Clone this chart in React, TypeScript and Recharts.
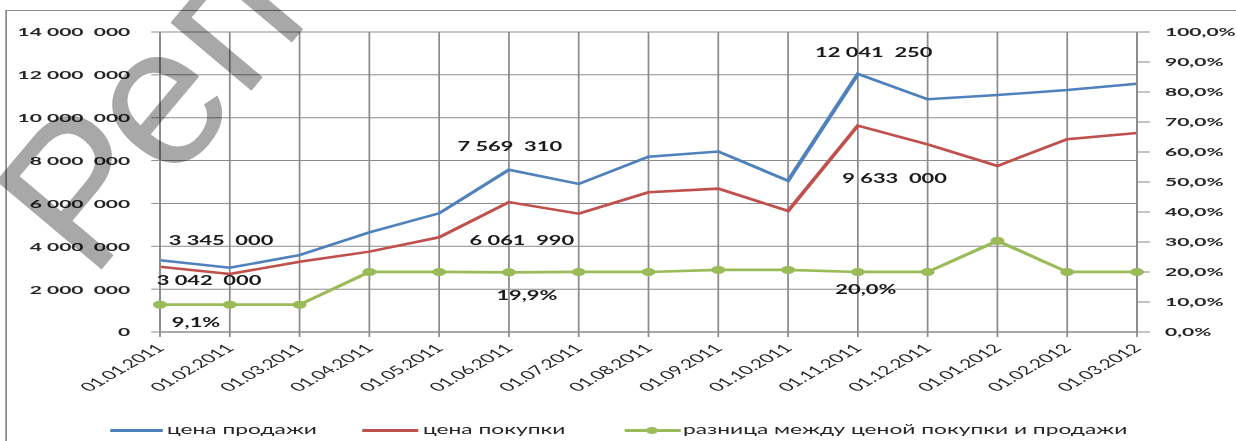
import React from 'react';
import { LineChart, Line, XAxis, YAxis, CartesianGrid, LabelList } from 'recharts';

// ---------- data ----------
const categories = [
  '01.01.2011', '01.02.2011', '01.03.2011', '01.04.2011', '01.05.2011',
  '01.06.2011', '01.07.2011', '01.08.2011', '01.09.2011', '01.10.2011',
  '01.11.2011', '01.12.2011', '01.01.2012', '01.02.2012', '01.03.2012',
];
const salePrice = [
  3345000, 3000000, 3590000, 4650000, 5540000,
  7569310, 6910000, 8180000, 8420000, 7060000,
  12041250, 10860000, 11060000, 11290000, 11590000,
];
const purchasePrice = [
  3042000, 2710000, 3280000, 3750000, 4420000,
  6061990, 5520000, 6520000, 6690000, 5650000,
  9633000, 8760000, 7750000, 9000000, 9290000,
];
const marginPct = [
  9.1, 9.1, 9.1, 20.0, 20.0,
  19.9, 20.0, 20.0, 20.7, 20.7,
  20.0, 20.0, 30.4, 20.0, 20.0,
];
const leftTicks = [0, 2000000, 4000000, 6000000, 8000000, 10000000, 12000000, 14000000];
const rightTicks = [0, 10, 20, 30, 40, 50, 60, 70, 80, 90, 100];
const seriesNames = ['цена продажи', 'цена покупки', 'разница между ценой покупки и продажи'];
const watermarkText = 'Реп';

// ---------- layout / style config ----------
const SX = 1.75; // horizontal stretch of the original picture
const W = 1236 / SX;
const H = 441;
const PLOT_LEFT = 160 / SX;
const PLOT_RIGHT = 1137 / SX;
const COLORS = { sale: '#4f81bd', buy: '#c0504d', diff: '#9bbb59' };
const GRID = '#8c8c8c';
const FONT = "Lato, 'Open Sans', 'DejaVu Sans', sans-serif";
const WM = { x: 91, y: 282, angle: -50, size: 200 };

// label offsets (in chart units) for labelled points, keyed by point index
const labelOffsets: Record<string, Record<number, [number, number]>> = {
  sale: { 0: [34.9, -20], 5: [0.5, -23], 10: [9.1, -21] },
  buy: { 0: [28, 14], 5: [7.4, 38], 10: [21, 53] },
  diff: { 0: [20.6, 18], 5: [10.3, 23], 10: [4.6, 18] },
};

const data = categories.map((c, i) => ({
  date: c,
  sale: salePrice[i],
  buy: purchasePrice[i],
  diff: marginPct[i],
}));

const NB = '\u00A0';
function fmtMoney(v: number): string {
  if (v === 0) return '0';
  const s = String(Math.round(v));
  const groups: string[] = [];
  for (let i = s.length; i > 0; i -= 3) groups.unshift(s.slice(Math.max(0, i - 3), i));
  if (groups.length === 1) return groups[0];
  const last = groups.pop();
  return groups.join(NB) + NB + NB + last;
}
function fmtPct(v: number): string {
  return v.toFixed(1).replace('.', ',') + '%';
}

const LeftTick = (props: any) => {
  const { x, y, payload } = props;
  return (
    <text x={x} y={y} dy={4.5} textAnchor="end" fontFamily={FONT} fontWeight="bold" fontSize={12} fill="#262626">
      {fmtMoney(payload.value)}
    </text>
  );
};

const RightTick = (props: any) => {
  const { x, y, payload } = props;
  return (
    <text x={x} y={y} dy={4.5} textAnchor="start" fontFamily={FONT} fontWeight="bold" fontSize={12} fill="#262626">
      {fmtPct(payload.value)}
    </text>
  );
};

const BottomTick = (props: any) => {
  const { x, y, payload } = props;
  return (
    <g transform={`translate(${x + 3},${y + 10})`}>
      <text x={0} y={0} textAnchor="end" transform="rotate(-45)" fontFamily={FONT} fontSize={12} fill="#262626">
        {payload.value}
      </text>
    </g>
  );
};

function makeLabel(key: string, series: number[], isPct: boolean) {
  return (props: any) => {
    const { x, y, value } = props;
    let index = props.index;
    if (index === undefined || index === null) index = series.indexOf(value);
    const off = labelOffsets[key][index];
    if (!off || x === undefined || y === undefined) return null;
    return (
      <text
        x={x + off[0]}
        y={y + off[1]}
        dy={4.5}
        textAnchor="middle"
        fontFamily={FONT}
        fontWeight="bold"
        fontSize={12.5}
        fill="#1a1a1a"
      >
        {isPct ? fmtPct(value) : fmtMoney(value)}
      </text>
    );
  };
}

const LegendItem = ({ textLeft, lineLeft, lineRight, color, marker, label }: any) => (
  <>
    <div
      style={{
        position: 'absolute',
        left: lineLeft,
        top: 429,
        width: lineRight - lineLeft,
        height: 2.5,
        background: color,
      }}
    />
    {marker ? (
      <div
        style={{
          position: 'absolute',
          left: (lineLeft + lineRight) / 2 - 3.5,
          top: 426.75,
          width: 7,
          height: 7,
          borderRadius: '50%',
          background: color,
        }}
      />
    ) : null}
    <div
      style={{
        position: 'absolute',
        left: textLeft,
        top: 420,
        fontFamily: FONT,
        fontSize: 13,
        lineHeight: '18px',
        color: '#262626',
        whiteSpace: 'nowrap',
      }}
    >
      {label}
    </div>
  </>
);

export default function App() {
  return (
    <div style={{ position: 'absolute', left: 0, top: 0, width: 1236, height: H, background: '#fff', overflow: 'hidden' }}>
      <div
        style={{
          position: 'absolute',
          left: 0,
          top: 0,
          width: W,
          height: H,
          transform: `scaleX(${SX})`,
          transformOrigin: '0 0',
        }}
      >
        <div
          style={{
            position: 'absolute',
            left: 6 / SX,
            top: 10,
            width: 1000,
            height: 1000,
            border: '1px solid #8a8a8a',
          }}
        />
        <div style={{ position: 'absolute', left: 0, top: 0 }}>
          <LineChart
            width={W}
            height={H}
            data={data}
            margin={{ top: 32, right: 0, bottom: 0, left: 0 }}
          >
            <CartesianGrid stroke={GRID} strokeWidth={1} yAxisId="left" vertical horizontal />
            <XAxis
              dataKey="date"
              height={109}
              tickSize={5}
              tickMargin={2}
              stroke={GRID}
              tick={<BottomTick />}
              interval={0}
            />
            <YAxis
              yAxisId="left"
              orientation="left"
              width={PLOT_LEFT}
              domain={[0, 14000000]}
              ticks={leftTicks}
              tickSize={5}
              tickMargin={12}
              stroke={GRID}
              tick={<LeftTick />}
              interval={0}
            />
            <YAxis
              yAxisId="right"
              orientation="right"
              width={W - PLOT_RIGHT}
              domain={[0, 100]}
              ticks={rightTicks}
              tickSize={7.4}
              tickMargin={8.6}
              stroke={GRID}
              tick={<RightTick />}
              interval={0}
            />
            <Line
              yAxisId="left"
              dataKey="sale"
              name={seriesNames[0]}
              type="linear"
              stroke={COLORS.sale}
              strokeWidth={2.5}
              dot={false}
              isAnimationActive={false}
            >
              <LabelList dataKey="sale" content={makeLabel('sale', salePrice, false)} />
            </Line>
            <Line
              yAxisId="left"
              dataKey="buy"
              name={seriesNames[1]}
              type="linear"
              stroke={COLORS.buy}
              strokeWidth={2.5}
              dot={false}
              isAnimationActive={false}
            >
              <LabelList dataKey="buy" content={makeLabel('buy', purchasePrice, false)} />
            </Line>
            <Line
              yAxisId="right"
              dataKey="diff"
              name={seriesNames[2]}
              type="linear"
              stroke={COLORS.diff}
              strokeWidth={2.75}
              dot={{ r: 3.5, fill: COLORS.diff, stroke: COLORS.diff, strokeWidth: 1 }}
              isAnimationActive={false}
            >
              <LabelList dataKey="diff" content={makeLabel('diff', marginPct, true)} />
            </Line>
          </LineChart>
        </div>
        <LegendItem lineLeft={110 / SX} lineRight={163 / SX} textLeft={167 / SX} color={COLORS.sale} label={seriesNames[0]} />
        <LegendItem lineLeft={363 / SX} lineRight={419 / SX} textLeft={423 / SX} color={COLORS.buy} label={seriesNames[1]} />
        <LegendItem lineLeft={625 / SX} lineRight={680 / SX} textLeft={683 / SX} color={COLORS.diff} marker label={seriesNames[2]} />
      </div>
      <svg
        width={1236}
        height={H}
        style={{ position: 'absolute', left: 0, top: 0, mixBlendMode: 'multiply', pointerEvents: 'none' }}
      >
        <text
          x={WM.x}
          y={WM.y}
          transform={`rotate(${WM.angle} ${WM.x} ${WM.y})`}
          fontFamily="'Liberation Sans', Arial, sans-serif"
          fontSize={WM.size}
          fill="#a8a8a8"
        >
          {watermarkText}
        </text>
      </svg>
    </div>
  );
}
